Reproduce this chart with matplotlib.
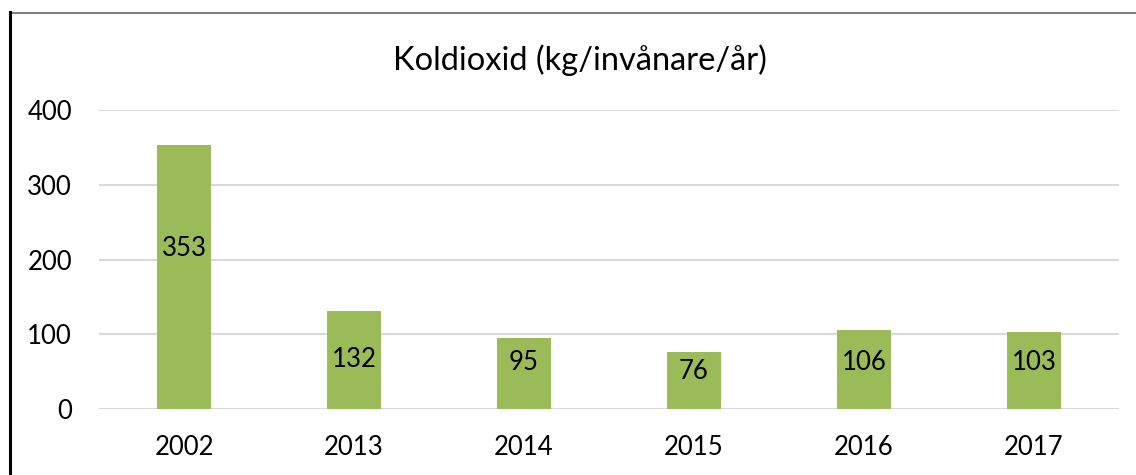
import matplotlib
matplotlib.use("Agg")
import matplotlib.pyplot as plt
from matplotlib.lines import Line2D

years = ["2002", "2013", "2014", "2015", "2016", "2017"]
values = [353, 132, 95, 76, 106, 103]
label_heights = [215, 66, 62, 50, 63, 63]
yticks = [0, 100, 200, 300, 400]
title = "Koldioxid (kg/invånare/år)"

plt.rcParams['font.family'] = ['Lato', 'DejaVu Sans']

W, H = 1136, 475
fig = plt.figure(figsize=(W / 100, H / 100), dpi=100)
ax = fig.add_axes([99 / W, (H - 409.3) / H, (1119 - 99) / W, (409.3 - 110) / H])

x = list(range(len(years)))
ax.bar(x, values, width=0.318, color="#9BBB59", zorder=3)
for xi, v, ly in zip(x, values, label_heights):
    ax.text(xi, ly, str(v), ha="center", va="center", fontsize=18.5, color="black", zorder=4)

ax.set_xlim(-0.5, len(years) - 0.5)
ax.set_ylim(0, 400)
ax.set_yticks(yticks)
ax.set_yticklabels([str(t) for t in yticks])
ax.set_xticks(x)
ax.set_xticklabels(years)
ax.tick_params(axis="both", length=0, labelsize=18.5, colors="black")
ax.tick_params(axis="y", pad=19.5)
ax.tick_params(axis="x", pad=18.5)
ax.yaxis.grid(True, color="#D9D9D9", linewidth=1.5, zorder=0)
ax.set_axisbelow(True)
for s in ax.spines.values():
    s.set_visible(False)

fig.text(580 / W, 1 - 60 / H, title, ha="center", va="center", fontsize=23.5, color="black")

# partial frame around the chart
fig.add_artist(Line2D([9.5 / W, 1.0], [1 - 12.5 / H, 1 - 12.5 / H], color="#808080", linewidth=1.5, transform=fig.transFigure))
fig.add_artist(Line2D([9.5 / W, 9.5 / W], [1 - 12 / H, 0], color="black", linewidth=2.2, transform=fig.transFigure))

fig.savefig("out.png", dpi=100, facecolor="white")
